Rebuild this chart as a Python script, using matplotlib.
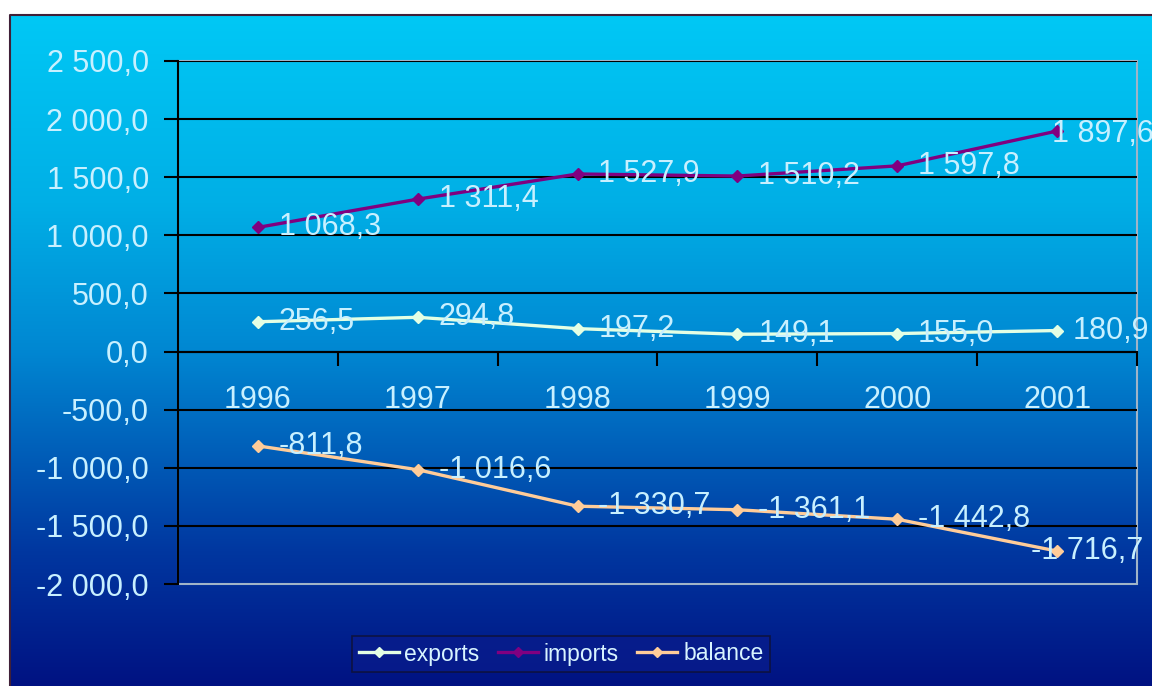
import matplotlib
matplotlib.use("Agg")
import matplotlib.pyplot as plt
import numpy as np
from matplotlib.colors import LinearSegmentedColormap
from matplotlib.ticker import FuncFormatter, FixedLocator
from matplotlib.patches import Rectangle
from matplotlib.lines import Line2D

# -------------------------------
# Data
# -------------------------------
years = ["1996", "1997", "1998", "1999", "2000", "2001"]
exports = [256.5, 294.8, 197.2, 149.1, 155.0, 180.9]
imports = [1068.3, 1311.4, 1527.9, 1510.2, 1597.8, 1897.6]
balance = [-811.8, -1016.6, -1330.7, -1361.1, -1442.8, -1716.7]

plt.rcParams["font.family"] = ["Liberation Sans", "DejaVu Sans"]

W, H = 1152, 686
fig = plt.figure(figsize=(W / 100, H / 100), dpi=100)
fig.patch.set_facecolor("white")


def fmt(v):
    s = f"{abs(v):,.1f}".replace(",", " ").replace(".", ",")
    return ("-" if v < 0 else "") + s


# -------------------------------
# Gradient background
# -------------------------------
bg = fig.add_axes([10 / W, 0, 1 - 10 / W, 1 - 15 / H])
bg.set_axis_off()
cmap = LinearSegmentedColormap.from_list(
    "bg",
    [(0.0, (0 / 255, 200 / 255, 245 / 255)),
     (0.28, (0 / 255, 175 / 255, 230 / 255)),
     (0.50, (0 / 255, 135 / 255, 210 / 255)),
     (0.65, (0 / 255, 95 / 255, 185 / 255)),
     (0.80, (0 / 255, 55 / 255, 160 / 255)),
     (1.0, (0 / 255, 18 / 255, 130 / 255))])
grad = np.linspace(0, 1, 256).reshape(-1, 1)
bg.imshow(grad, aspect="auto", cmap=cmap, extent=[0, 1, 0, 1], origin="upper")
bg.set_xlim(0, 1)
bg.set_ylim(0, 1)
bg.plot([0, 0, 1], [0, 1, 1], color="#402038", lw=1.5, clip_on=False)

# -------------------------------
# Main plot
# -------------------------------
x0, x1, y0, y1 = 178, 1137, 61, 584
ax = fig.add_axes([x0 / W, 1 - y1 / H, (x1 - x0) / W, (y1 - y0) / H])
ax.patch.set_alpha(0)

label_col = "#c8f0ff"
fs = 22
xs = np.arange(len(years))

series = [
    ("exports", exports, "#e4ffe4", [(15, 0)] * 5 + [(11, 0)]),
    ("imports", imports, "#800080", [(15, 0)] * 5 + [(-4, -2)]),
    ("balance", balance, "#ffcc99", [(15, 0)] * 5 + [(-19, 0)]),
]
for name, vals, col, offs in series:
    ax.plot(xs, vals, color=col, lw=2.4, marker="D", markersize=6,
            label=name, zorder=4, clip_on=False)
    for x, v, off in zip(xs, vals, offs):
        ax.annotate(fmt(v), (x, v), xytext=off, textcoords="offset points",
                    ha="left", va="center", color=label_col, fontsize=fs,
                    zorder=5, annotation_clip=False)

ax.set_xlim(-0.5, len(years) - 0.5)
ax.set_ylim(-2000, 2500)
ax.set_yticks(np.arange(-2000, 2501, 500))
ax.yaxis.set_major_formatter(FuncFormatter(lambda v, p: fmt(v)))
ax.tick_params(axis="y", direction="out", length=10, width=1.5, color="black",
               labelcolor=label_col, labelsize=fs, pad=11)

ax.set_xticks(xs)
ax.set_xticklabels(years)
ax.xaxis.set_minor_locator(FixedLocator(np.arange(0.5, len(years), 1)))
ax.tick_params(axis="x", which="major", length=0, pad=24,
               labelcolor=label_col, labelsize=fs)
ax.tick_params(axis="x", which="minor", direction="out", length=10,
               width=1.5, color="black")

for gy in np.arange(-1500, 2501, 500):
    ax.axhline(gy, color="black", lw=1.5, zorder=1)

ax.spines["bottom"].set_position(("data", 0))
ax.spines["bottom"].set_color("black")
ax.spines["bottom"].set_linewidth(1.5)
ax.spines["left"].set_color("black")
ax.spines["left"].set_linewidth(1.5)
ax.spines["top"].set_visible(False)
ax.spines["right"].set_visible(False)
ax.add_patch(Rectangle((0, 0), 1, 1, transform=ax.transAxes, fill=False,
                       edgecolor="#a0b4c8", lw=1.5, zorder=0.5, clip_on=False))
ax.spines["left"].set_zorder(3)

# -------------------------------
# Legend
# -------------------------------
handles = [Line2D([], [], color=c, lw=2.4, marker="D", markersize=5)
           for _, _, c, _ in series]
leg = fig.legend(handles, [s[0] for s in series], loc="center",
                 bbox_to_anchor=(561 / W, 1 - 654 / H), ncol=3, fontsize=16.5,
                 frameon=True, fancybox=False, handlelength=1.75,
                 handletextpad=0.25, columnspacing=0.8, borderpad=0.3,
                 borderaxespad=0)
leg.get_frame().set_facecolor("#081c8c")
leg.get_frame().set_edgecolor("#101030")
leg.get_frame().set_linewidth(1.2)
for t in leg.get_texts():
    t.set_color("#d8f4ff")

plt.savefig("out.png", dpi=100)
